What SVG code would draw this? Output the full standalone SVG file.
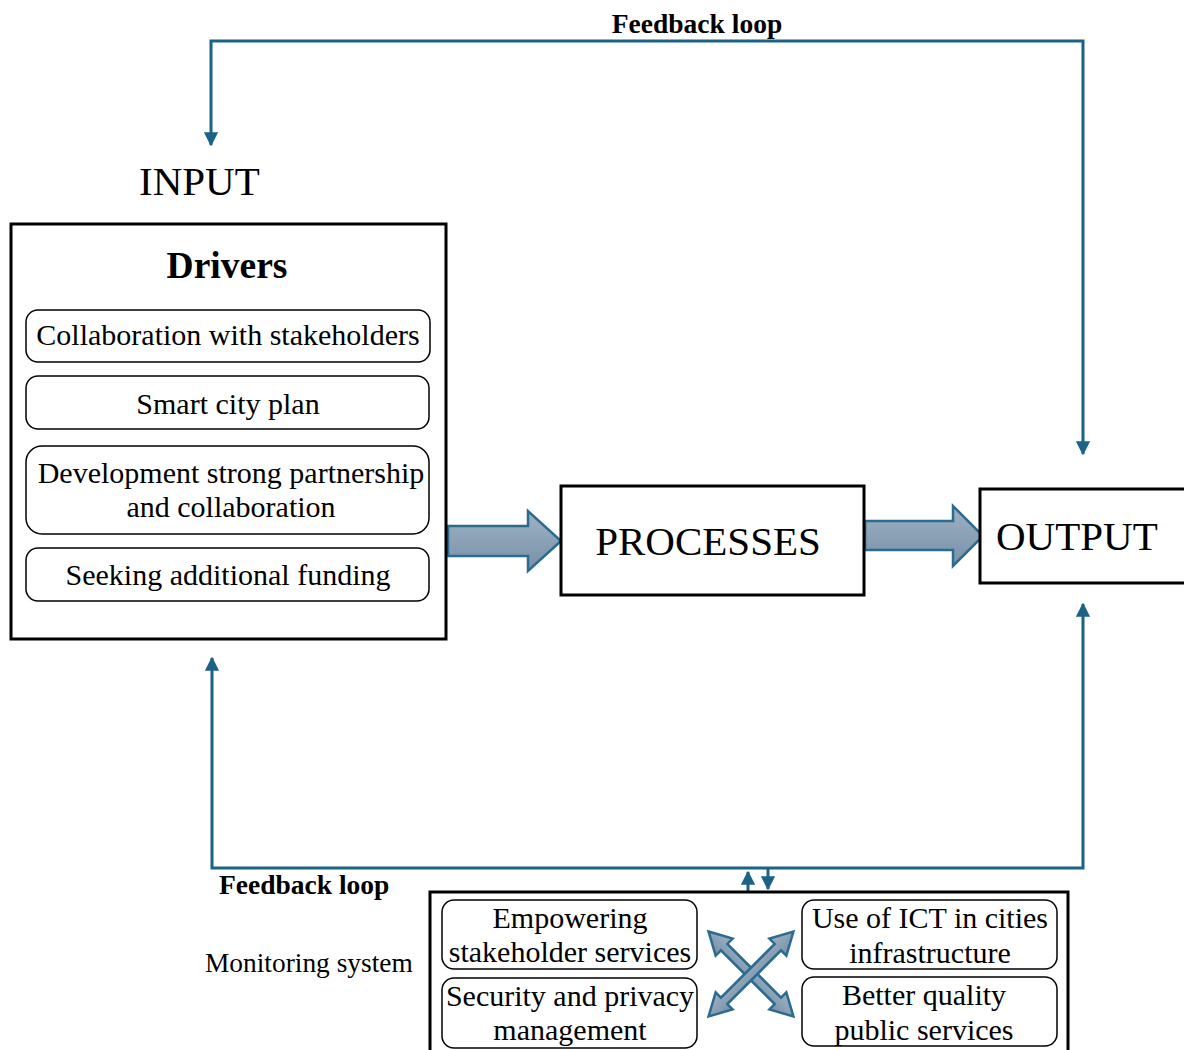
<svg xmlns="http://www.w3.org/2000/svg" width="1184" height="1050" viewBox="0 0 1184 1050">
  <defs>
    <linearGradient id="blockFill" x1="0" y1="0" x2="0" y2="1">
      <stop offset="0" stop-color="#9fb2c3"/>
      <stop offset="1" stop-color="#7690a8"/>
    </linearGradient>
    <marker id="tip" viewBox="0 0 10 10" refX="9" refY="5" markerWidth="4.7" markerHeight="4.7" orient="auto-start-reverse" markerUnits="strokeWidth">
      <path d="M0,0 L10,5 L0,10 z" fill="#1b6287"/>
    </marker>
    <!-- double-headed diagonal arrow, drawn along the x axis -->
    <polygon id="dbl" points="-60,0 -38,-12 -38,-4.5 38,-4.5 38,-12 60,0 38,12 38,4.5 -38,4.5 -38,12"/>
  </defs>
  <style>
    .box { fill: #fff; stroke: #000; stroke-width: 3; }
    .item { fill: #fff; stroke: #000; stroke-width: 1.5; }
    .t { font-family: "Liberation Serif", "Times New Roman", serif; fill: #000; }
    .big { font-size: 41px; }
    .it { font-size: 30px; text-anchor: middle; }
    .lbl { font-size: 27.5px; font-weight: bold; }
    .line { fill: none; stroke: #1b6287; stroke-width: 3; }
    .block { fill: url(#blockFill); stroke: #2c6b90; stroke-width: 2.5; stroke-linejoin: miter; }
  </style>
  <rect width="1184" height="1050" fill="#fff"/>

  <!-- feedback loops and small connectors -->
  <g id="connectors">
    <polyline class="line" points="211,145 211,41 1083,41 1083,454" marker-start="url(#tip)" marker-end="url(#tip)"/>
    <polyline class="line" points="212,658 212,868 1083,868 1083,604" marker-start="url(#tip)" marker-end="url(#tip)"/>
    <path class="line" d="M748,892 V872" marker-end="url(#tip)"/>
    <path class="line" d="M768,868 V889" marker-end="url(#tip)"/>
    <!-- block arrows between stages -->
    <polygon class="block" points="448,526 528,526 528,511 561,541 528,571 528,556 448,556"/>
    <polygon class="block" points="865,521 953,521 953,506 983,536 953,566 953,550 865,550"/>
  </g>

  <text class="t lbl" x="697" y="33" text-anchor="middle">Feedback loop</text>
  <text class="t lbl" x="219" y="894">Feedback loop</text>

  <g id="input">
    <text class="t big" x="139" y="195">INPUT</text>
    <rect class="box" x="11" y="224" width="435" height="415"/>
    <text class="t" x="227" y="278" font-size="37.5" font-weight="bold" text-anchor="middle">Drivers</text>
    <rect class="item" x="26" y="310" width="404" height="52" rx="12"/>
    <text class="t it" x="228" y="345">Collaboration with stakeholders</text>
    <rect class="item" x="26" y="376" width="403" height="53" rx="12"/>
    <text class="t it" x="228" y="414">Smart city plan</text>
    <rect class="item" x="26" y="446" width="403" height="88" rx="16"/>
    <text class="t it" x="231" y="483">Development strong partnership</text>
    <text class="t it" x="231" y="517">and collaboration</text>
    <rect class="item" x="26" y="548" width="403" height="53" rx="12"/>
    <text class="t it" x="228" y="585">Seeking additional funding</text>
  </g>

  <g id="processes">
    <rect class="box" x="561" y="486" width="303" height="109"/>
    <text class="t big" x="708" y="555" text-anchor="middle">PROCESSES</text>
  </g>

  <g id="output">
    <rect class="box" x="980" y="489" width="215" height="94"/>
    <text class="t big" x="996" y="550">OUTPUT</text>
  </g>

  <g id="monitoring">
    <text class="t" x="205" y="972" font-size="27.4">Monitoring system</text>
    <rect class="box" x="430" y="892" width="638" height="170"/>
    <rect class="item" x="442" y="900" width="255" height="69" rx="12"/>
    <text class="t it" x="570" y="928">Empowering</text>
    <text class="t it" x="570" y="962">stakeholder services</text>
    <rect class="item" x="442" y="978" width="255" height="70" rx="12"/>
    <text class="t it" x="570" y="1006">Security and privacy</text>
    <text class="t it" x="570" y="1040">management</text>
    <rect class="item" x="802" y="900" width="255" height="69" rx="12"/>
    <text class="t it" x="930" y="928">Use of ICT in cities</text>
    <text class="t it" x="930" y="963">infrastructure</text>
    <rect class="item" x="802" y="977" width="255" height="69" rx="12"/>
    <text class="t it" x="924" y="1005">Better quality</text>
    <text class="t it" x="924" y="1040">public services</text>
    <use href="#dbl" class="block" transform="translate(751,974) rotate(45)"/>
    <use href="#dbl" class="block" transform="translate(751,974) rotate(-45)"/>
  </g>
</svg>
